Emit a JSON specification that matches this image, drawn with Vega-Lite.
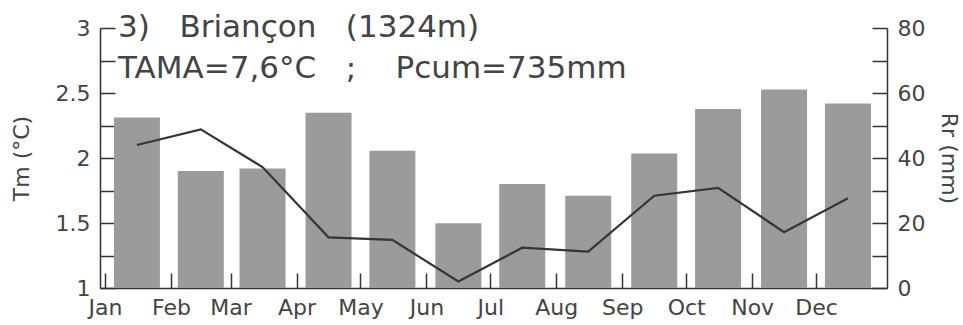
{
  "$schema": "https://vega.github.io/schema/vega-lite/v6.json",
  "width": 787,
  "height": 260,
  "autosize": "none",
  "padding": {"left": 100, "top": 28, "right": 76, "bottom": 37},
  "background": "white",
  "config": {
    "view": {"stroke": null},
    "axis": {
      "labelFont": "DejaVu Sans",
      "titleFont": "DejaVu Sans",
      "labelFontSize": 22,
      "titleFontSize": 22,
      "labelColor": "#444",
      "titleColor": "#444",
      "titleFontWeight": "normal",
      "domainColor": "#333",
      "tickColor": "#333",
      "domainWidth": 1.5,
      "tickWidth": 1.5,
      "grid": false
    }
  },
  "title": {
    "text": "3)\u00a0\u00a0\u00a0Briançon\u00a0\u00a0\u00a0(1324m)",
    "subtitle": "TAMA=7,6°C\u00a0\u00a0\u00a0;\u00a0\u00a0\u00a0\u00a0Pcum=735mm",
    "anchor": "start",
    "frame": "group",
    "offset": -68,
    "dx": 18,
    "font": "DejaVu Sans",
    "fontSize": 31,
    "fontWeight": "normal",
    "color": "#444",
    "subtitleFont": "DejaVu Sans",
    "subtitleFontSize": 31,
    "subtitleColor": "#444",
    "subtitlePadding": 10
  },
  "data": {
    "values": [
      {"date": "2001-01-16T00:00:00", "rr": 52.5, "tm": 2.10},
      {"date": "2001-02-15T00:00:00", "rr": 36.0, "tm": 2.22},
      {"date": "2001-03-16T00:00:00", "rr": 36.8, "tm": 1.93},
      {"date": "2001-04-16T00:00:00", "rr": 53.9, "tm": 1.39},
      {"date": "2001-05-16T00:00:00", "rr": 42.2, "tm": 1.37},
      {"date": "2001-06-16T00:00:00", "rr": 19.9, "tm": 1.05},
      {"date": "2001-07-16T00:00:00", "rr": 32.0, "tm": 1.31},
      {"date": "2001-08-16T00:00:00", "rr": 28.4, "tm": 1.28},
      {"date": "2001-09-16T00:00:00", "rr": 41.4, "tm": 1.71},
      {"date": "2001-10-16T00:00:00", "rr": 55.1, "tm": 1.77},
      {"date": "2001-11-16T00:00:00", "rr": 61.1, "tm": 1.43},
      {"date": "2001-12-16T00:00:00", "rr": 56.8, "tm": 1.69}
    ]
  },
  "layer": [
    {
      "mark": {"type": "bar", "width": 46, "color": "#9b9b9b"},
      "encoding": {
        "x": {
          "field": "date",
          "type": "temporal",
          "scale": {
            "domain": [
              {"year": 2001, "month": 1, "date": 1},
              {"year": 2001, "month": 12, "date": 31, "hours": 23, "minutes": 59}
            ],
            "nice": false
          },
          "axis": {
            "orient": "bottom",
            "title": null,
            "values": [
              {"year": 2001, "month": 1, "date": 1},
              {"year": 2001, "month": 2, "date": 1},
              {"year": 2001, "month": 3, "date": 1},
              {"year": 2001, "month": 4, "date": 1},
              {"year": 2001, "month": 5, "date": 1},
              {"year": 2001, "month": 6, "date": 1},
              {"year": 2001, "month": 7, "date": 1},
              {"year": 2001, "month": 8, "date": 1},
              {"year": 2001, "month": 9, "date": 1},
              {"year": 2001, "month": 10, "date": 1},
              {"year": 2001, "month": 11, "date": 1},
              {"year": 2001, "month": 12, "date": 1}
            ],
            "format": "%b",
            "labelAlign": "center",
            "ticks": false,
            "labelPadding": 9
          }
        },
        "y": {
          "field": "rr",
          "type": "quantitative",
          "scale": {"domain": [0, 80], "nice": false},
          "axis": {
            "orient": "right",
            "title": "Rr (mm)",
            "titleAngle": 90,
            "values": [0, 20, 40, 60, 80],
            "ticks": false,
            "labelPadding": 10,
            "titlePadding": 12
          }
        }
      }
    },
    {
      "mark": {"type": "line", "color": "#353535", "strokeWidth": 2.2},
      "encoding": {
        "x": {
          "field": "date",
          "type": "temporal",
          "axis": {
            "orient": "top",
            "offset": -260,
            "title": null,
            "labels": false,
            "domain": false,
            "tickSize": 15,
            "values": [
              {"year": 2001, "month": 1, "date": 1},
              {"year": 2001, "month": 2, "date": 1},
              {"year": 2001, "month": 3, "date": 1},
              {"year": 2001, "month": 4, "date": 1},
              {"year": 2001, "month": 5, "date": 1},
              {"year": 2001, "month": 6, "date": 1},
              {"year": 2001, "month": 7, "date": 1},
              {"year": 2001, "month": 8, "date": 1},
              {"year": 2001, "month": 9, "date": 1},
              {"year": 2001, "month": 10, "date": 1},
              {"year": 2001, "month": 11, "date": 1},
              {"year": 2001, "month": 12, "date": 1}
            ]
          }
        },
        "y": {
          "field": "tm",
          "type": "quantitative",
          "scale": {"domain": [1, 3], "nice": false},
          "axis": {
            "orient": "left",
            "title": "Tm (°C)",
            "values": [1, 1.5, 2, 2.5, 3],
            "labelExpr": "toString(datum.value)",
            "ticks": false,
            "labelPadding": 10,
            "titlePadding": 22
          }
        }
      }
    },
    {
      "mark": {"type": "line", "opacity": 0},
      "encoding": {
        "x": {"field": "date", "type": "temporal", "axis": null},
        "y": {
          "field": "rr",
          "type": "quantitative",
          "scale": {"domain": [0, 80], "nice": false},
          "axis": {
            "orient": "left",
            "offset": -787,
            "title": null,
            "labels": false,
            "domain": false,
            "tickSize": 15,
            "values": [0, 10, 20, 30, 40, 50, 60, 70, 80]
          }
        }
      }
    },
    {
      "mark": {"type": "line", "opacity": 0},
      "encoding": {
        "x": {"field": "date", "type": "temporal", "axis": null},
        "y": {
          "field": "tm",
          "type": "quantitative",
          "scale": {"domain": [1, 3], "nice": false},
          "axis": {
            "orient": "right",
            "offset": -787,
            "title": null,
            "labels": false,
            "domain": false,
            "tickSize": 15,
            "values": [1, 1.25, 1.5, 1.75, 2, 2.25, 2.5, 2.75, 3]
          }
        }
      }
    }
  ],
  "resolve": {
    "scale": {"y": "independent"},
    "axis": {"x": "independent", "y": "independent"}
  }
}
